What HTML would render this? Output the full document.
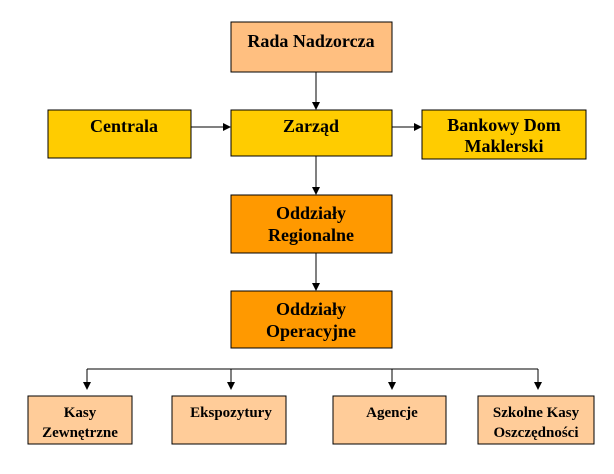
<!DOCTYPE html>
<html><head><meta charset="utf-8"><style>
body{margin:0;background:#fff;width:614px;height:469px;overflow:hidden}
</style></head><body>
<svg width="614" height="469" xmlns="http://www.w3.org/2000/svg" font-family="Liberation Serif, serif" font-weight="bold" text-anchor="middle">
<defs><marker id="a" markerWidth="8" markerHeight="8" refX="7" refY="4" orient="auto" markerUnits="userSpaceOnUse"><path d="M0,0 L8,4 L0,8z" fill="#000"/></marker></defs>
<g stroke="#000" stroke-width="1">
<rect x="231" y="22" width="161" height="50" fill="#FFBF80"/>
<rect x="48" y="110" width="143" height="48" fill="#FFCC00"/>
<rect x="231" y="110" width="161" height="46" fill="#FFCC00"/>
<rect x="422" y="110" width="164" height="49" fill="#FFCC00"/>
<rect x="231" y="195" width="161" height="58" fill="#FF9900"/>
<rect x="231" y="291" width="161" height="57" fill="#FF9900"/>
<rect x="28" y="396" width="104" height="48" fill="#FFCC99"/>
<rect x="172" y="396" width="114" height="48" fill="#FFCC99"/>
<rect x="333" y="396" width="113" height="48" fill="#FFCC99"/>
<rect x="478" y="396" width="116" height="48" fill="#FFCC99"/>
<g fill="none">
<line x1="316" y1="72" x2="316" y2="109" marker-end="url(#a)"/>
<line x1="191" y1="127" x2="230" y2="127" marker-end="url(#a)"/>
<line x1="392" y1="127" x2="421" y2="127" marker-end="url(#a)"/>
<line x1="316" y1="156" x2="316" y2="194" marker-end="url(#a)"/>
<line x1="316" y1="253" x2="316" y2="290" marker-end="url(#a)"/>
<line x1="87" y1="369" x2="538" y2="369"/>
<line x1="87" y1="369" x2="87" y2="389" marker-end="url(#a)"/>
<line x1="231" y1="369" x2="231" y2="389" marker-end="url(#a)"/>
<line x1="392" y1="369" x2="392" y2="389" marker-end="url(#a)"/>
<line x1="538" y1="369" x2="538" y2="389" marker-end="url(#a)"/>
</g></g>
<g font-size="18">
<text x="311" y="47">Rada Nadzorcza</text>
<text x="124" y="132">Centrala</text>
<text x="311" y="132">Zarząd</text>
<text x="504" y="131">Bankowy Dom</text>
<text x="504" y="152">Maklerski</text>
<text x="311" y="219">Oddziały</text>
<text x="311" y="241">Regionalne</text>
<text x="311" y="315">Oddziały</text>
<text x="311" y="337">Operacyjne</text>
</g>
<g font-size="15">
<text x="80" y="417">Kasy</text>
<text x="80" y="437">Zewnętrzne</text>
<text x="231" y="417">Ekspozytury</text>
<text x="392" y="417">Agencje</text>
<text x="536" y="417">Szkolne Kasy</text>
<text x="536" y="437">Oszczędności</text>
</g>
</svg>
</body></html>
